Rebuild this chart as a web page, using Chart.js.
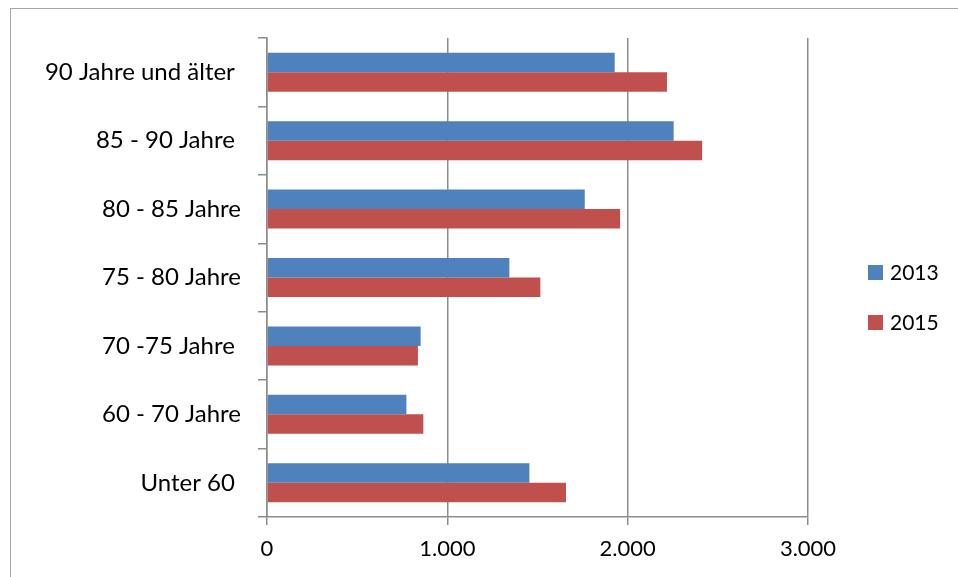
<!DOCTYPE html>
<html lang="de">
<head>
    <meta charset="UTF-8">
    <title>Altersgruppen 2013 / 2015</title>
    <script src="https://cdn.jsdelivr.net/npm/chart.js"></script>
    <style>
        body { margin: 0; background: #fff; }
        .frame { position: absolute; left: 10px; top: 8px; width: 960px; height: 580px; border: 1px solid #a6a6a6; }
        #chart { position: absolute; left: 0; top: 0; }
    </style>
</head>
<body>
    <div class="frame"></div>
    <canvas id="chart" width="958" height="577"></canvas>

    <script>
        const categories = ['90 Jahre und älter ', '85 - 90 Jahre ', '80 - 85 Jahre', '75 - 80 Jahre', '70 -75 Jahre ', '60 - 70 Jahre', 'Unter 60 '];
        const values2013 = [1928, 2255, 1762, 1344, 852, 773, 1455];
        const values2015 = [2218, 2413, 1958, 1516, 837, 867, 1658];
        const xTicks = [0, 1000, 2000, 3000];

        const FONT = 'Lato, "Open Sans", sans-serif';
        const GRID = '#8c8c8c';

        function fmt(v) {
            return String(v).replace(/\B(?=(\d{3})+(?!\d))/g, '.');
        }

        // legend drawn on the right like the original
        const sideLegend = {
            id: 'sideLegend',
            afterDraw(chart) {
                const ctx = chart.ctx;
                ctx.save();
                ctx.font = '21px ' + FONT;
                ctx.textBaseline = 'middle';
                chart.data.datasets.forEach((ds, i) => {
                    const y = 272 + i * 50;
                    ctx.fillStyle = ds.backgroundColor;
                    ctx.fillRect(868, y - 7, 15, 15);
                    ctx.fillStyle = '#000';
                    ctx.fillText(ds.label, 890, y + 1);
                });
                ctx.restore();
            }
        };

        new Chart(document.getElementById('chart'), {
            type: 'bar',
            data: {
                labels: categories,
                datasets: [
                    { label: '2013', data: values2013, backgroundColor: '#4F81BD' },
                    { label: '2015', data: values2015, backgroundColor: '#C0504D' }
                ]
            },
            options: {
                indexAxis: 'y',
                responsive: false,
                animation: false,
                layout: { padding: { top: 38, right: 150, bottom: 0, left: 0 } },
                datasets: { bar: { categoryPercentage: 0.57, barPercentage: 1.0 } },
                plugins: { legend: { display: false }, tooltip: { enabled: false } },
                scales: {
                    x: {
                        min: 0,
                        max: 3000,
                        afterBuildTicks: axis => { axis.ticks = xTicks.map(v => ({ value: v })); },
                        afterFit: scale => { scale.height = 60; },
                        grid: { color: GRID, lineWidth: 1.5, tickLength: 8 },
                        border: { color: GRID, width: 1.5 },
                        ticks: {
                            color: '#000',
                            font: { family: FONT, size: 22 },
                            padding: 11,
                            callback: v => fmt(v)
                        }
                    },
                    y: {
                        afterFit: scale => { scale.width = 267; },
                        grid: { drawOnChartArea: false, color: GRID, lineWidth: 1.5, tickLength: 9 },
                        border: { color: GRID, width: 1.5 },
                        ticks: {
                            color: '#000',
                            font: { family: FONT, size: 24 },
                            padding: 17
                        }
                    }
                }
            },
            plugins: [sideLegend]
        });
    </script>
</body>
</html>
